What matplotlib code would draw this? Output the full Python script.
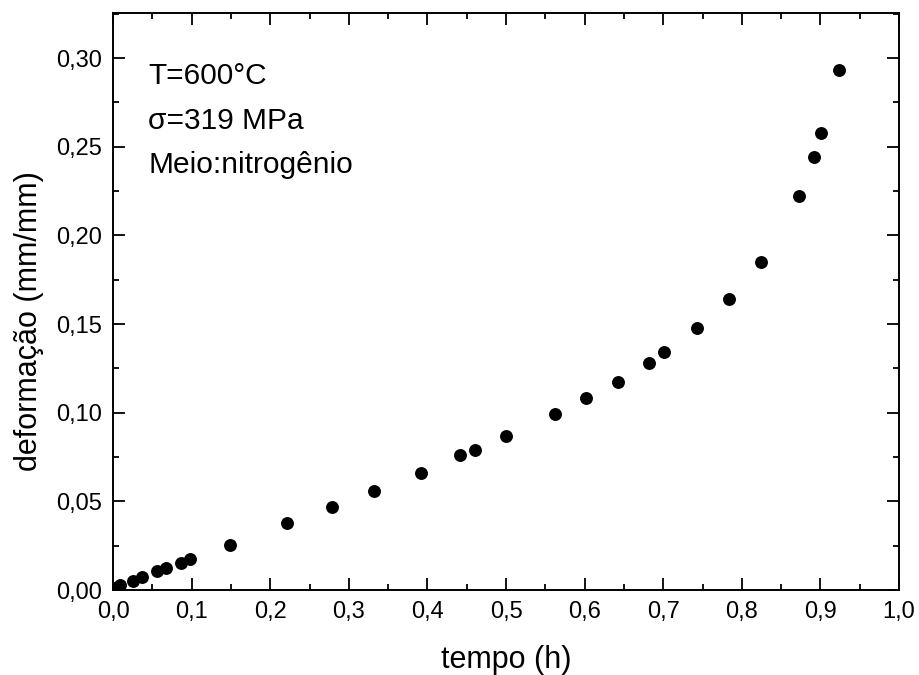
import matplotlib

matplotlib.use('Agg')
import matplotlib.pyplot as plt
from matplotlib.ticker import MultipleLocator, FuncFormatter

# data
tempo = [0.000, 0.003, 0.009, 0.026, 0.037, 0.056, 0.068, 0.086, 0.098, 0.149,
         0.222, 0.278, 0.332, 0.392, 0.441, 0.461, 0.500, 0.562, 0.602, 0.642,
         0.682, 0.701, 0.743, 0.784, 0.824, 0.873, 0.892, 0.901, 0.924]
deformacao = [0.000, 0.001, 0.003, 0.005, 0.0073, 0.0107, 0.0124, 0.015, 0.0174, 0.0253,
              0.0376, 0.047, 0.0556, 0.066, 0.076, 0.079, 0.087, 0.0994, 0.108, 0.1174,
              0.128, 0.134, 0.148, 0.164, 0.185, 0.222, 0.244, 0.258, 0.293]
info_lines = ['T=600°C', 'σ=319 MPa', 'Meio:nitrogênio']

plt.rcParams['font.family'] = ['Liberation Sans', 'DejaVu Sans']

fig = plt.figure(figsize=(9.19, 6.75), dpi=100)
ax = fig.add_axes([113 / 919, 1 - 590 / 675, 786 / 919, 577 / 675])

ax.plot(tempo, deformacao, 'o', color='black', markersize=9.3, markeredgewidth=0)

ax.set_xlim(0, 1.0)
ax.set_ylim(0, 0.3254)
ax.xaxis.set_major_locator(MultipleLocator(0.1))
ax.xaxis.set_minor_locator(MultipleLocator(0.05))
ax.yaxis.set_major_locator(MultipleLocator(0.05))
ax.yaxis.set_minor_locator(MultipleLocator(0.025))
ax.xaxis.set_major_formatter(FuncFormatter(lambda v, p: ('%.1f' % v).replace('.', ',')))
ax.yaxis.set_major_formatter(FuncFormatter(lambda v, p: ('%.2f' % v).replace('.', ',')))

ax.tick_params(which='both', direction='in', top=True, right=True, width=1.3, labelsize=17)
ax.tick_params(which='major', length=8.5, pad=8)
ax.tick_params(which='minor', length=4.5)
for sp in ax.spines.values():
    sp.set_linewidth(1.4)

ax.set_xlabel('tempo (h)', fontsize=22, labelpad=16)
ax.set_ylabel('deformação (mm/mm)', fontsize=22)
ax.yaxis.set_label_coords(-0.088, 0.466)

# info block in the upper-left corner
for i, line in enumerate(info_lines):
    ax.text(0.045, 0.89 - i * 0.077, line, transform=ax.transAxes,
            fontsize=21.5, va='center', ha='left')

fig.savefig('out.png', dpi=100)
